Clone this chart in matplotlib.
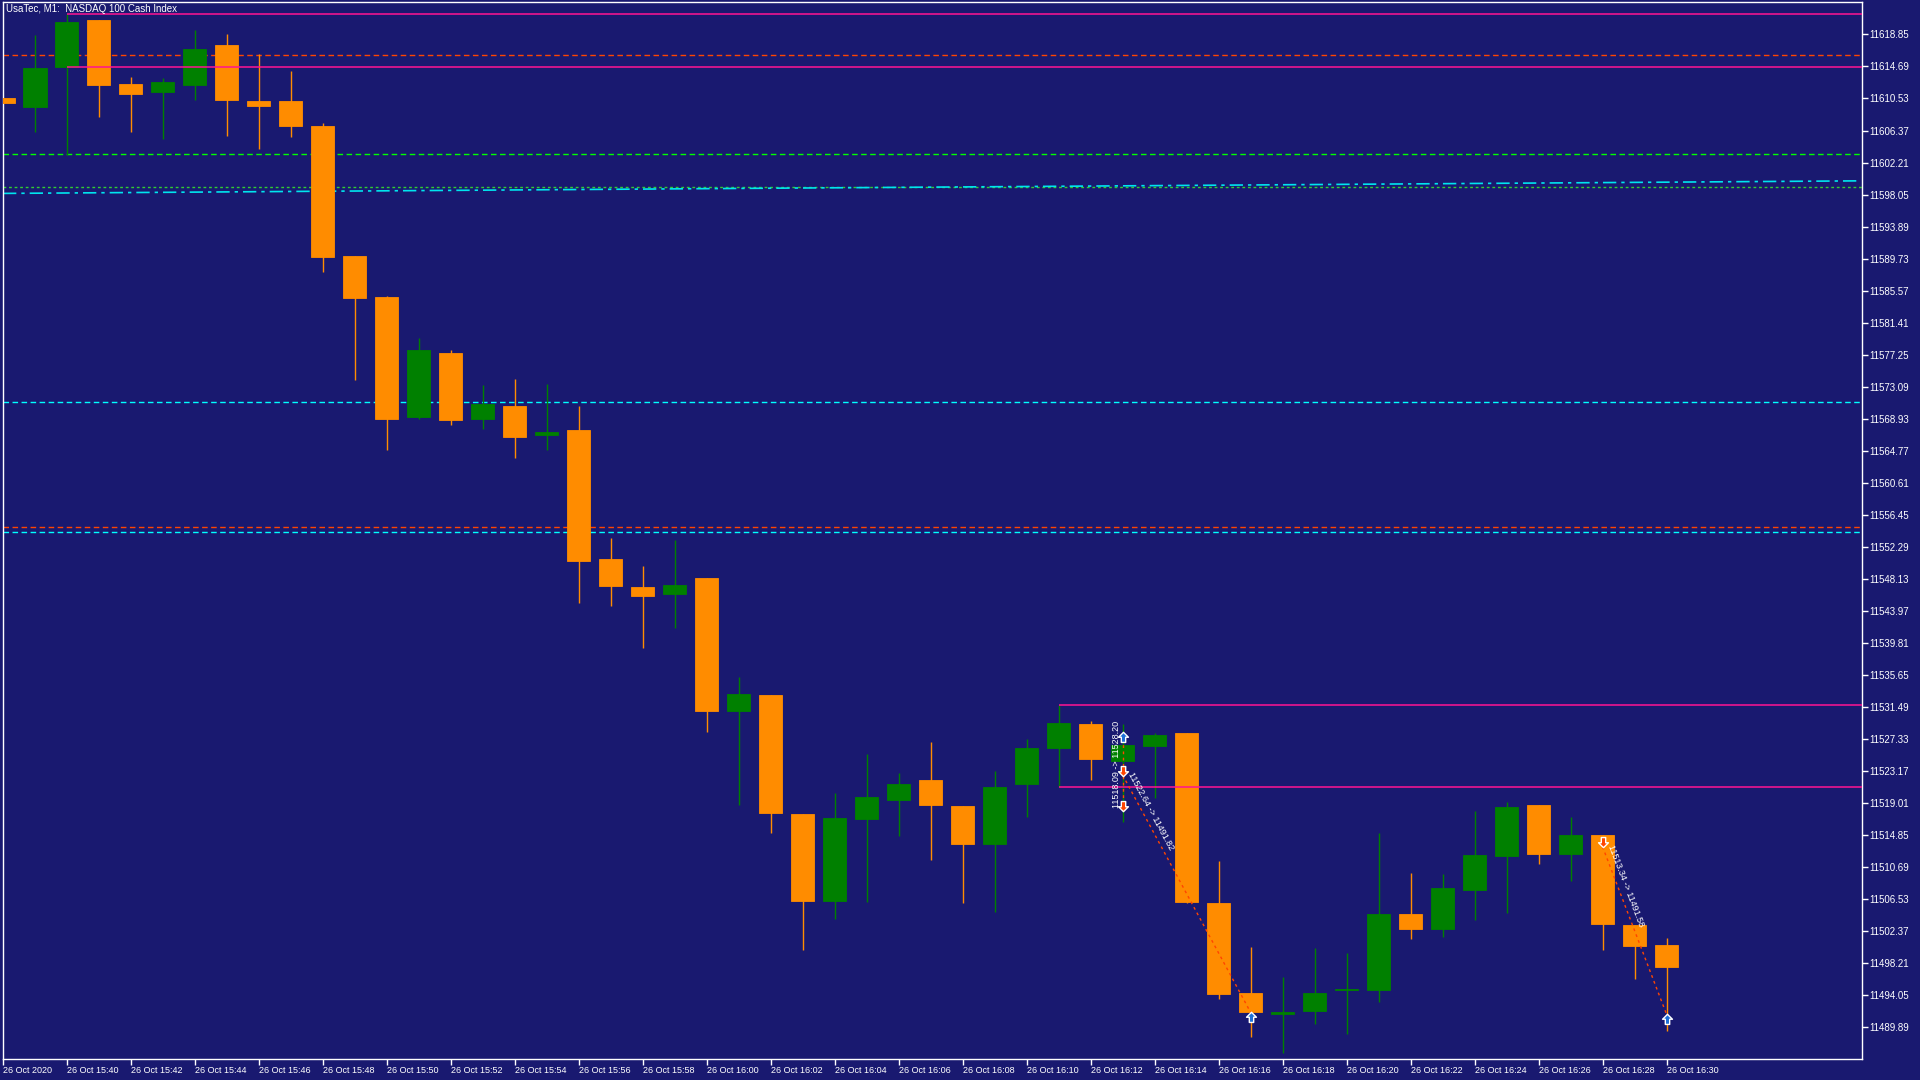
import math
import matplotlib
matplotlib.use("Agg")
import matplotlib.pyplot as plt
from matplotlib.path import Path
from matplotlib.transforms import ScaledTranslation

# ---------------- data ----------------
times = ["15:38", "15:39", "15:40", "15:41", "15:42", "15:43", "15:44", "15:45", "15:46", "15:47",
         "15:48", "15:49", "15:50", "15:51", "15:52", "15:53", "15:54", "15:55", "15:56", "15:57",
         "15:58", "15:59", "16:00", "16:01", "16:02", "16:03", "16:04", "16:05", "16:06", "16:07",
         "16:08", "16:09", "16:10", "16:11", "16:12", "16:13", "16:14", "16:15", "16:16", "16:17",
         "16:18", "16:19", "16:20", "16:21", "16:22", "16:23", "16:24", "16:25", "16:26", "16:27",
         "16:28", "16:29", "16:30"]
opens = [11610.59, 11609.42, 11614.65, 11620.72, 11612.41, 11611.41, 11612.32, 11617.47, 11610.20, 11610.20,
         11606.95, 11590.07, 11584.74, 11569.16, 11577.47, 11568.90, 11570.59, 11566.82, 11567.47, 11550.72,
         11547.09, 11546.18, 11548.26, 11531.01, 11533.05, 11517.60, 11506.33, 11516.99, 11519.46, 11522.02,
         11518.68, 11513.66, 11521.55, 11526.21, 11529.30, 11524.53, 11526.44, 11528.13, 11506.03, 11494.34,
         11491.66, 11492.05, 11494.77, 11494.77, 11504.60, 11502.69, 11507.78, 11512.20, 11518.78, 11512.46,
         11514.88, 11503.17, 11500.54]
highs = [11610.59, 11618.77, 11621.46, 11620.72, 11613.32, 11613.15, 11619.42, 11618.90, 11616.30, 11614.10,
         11607.30, 11590.07, 11584.87, 11579.38, 11577.86, 11573.32, 11574.10, 11573.45, 11570.59, 11553.45,
         11549.81, 11553.19, 11548.26, 11535.39, 11533.05, 11517.60, 11520.33, 11525.40, 11522.92, 11526.96,
         11518.68, 11523.18, 11527.35, 11531.77, 11529.69, 11529.30, 11528.13, 11528.13, 11511.50, 11500.32,
         11496.44, 11500.19, 11499.54, 11515.14, 11509.95, 11509.82, 11518.00, 11519.17, 11518.78, 11517.21,
         11514.88, 11503.17, 11501.48]
lows = [11609.94, 11606.21, 11603.19, 11608.16, 11606.21, 11605.23, 11610.37, 11605.69, 11604.00, 11605.56,
        11588.03, 11574.02, 11564.88, 11568.90, 11568.12, 11567.60, 11563.84, 11564.88, 11545.00, 11544.65,
        11539.20, 11541.80, 11528.29, 11518.81, 11515.17, 11499.93, 11504.00, 11506.20, 11514.78, 11511.66,
        11506.07, 11504.86, 11517.25, 11521.12, 11521.99, 11516.60, 11519.68, 11506.07, 11493.60, 11488.67,
        11486.55, 11490.37, 11489.06, 11493.21, 11501.39, 11501.65, 11503.86, 11504.73, 11511.16, 11508.93,
        11499.97, 11496.22, 11489.44]
closes = [11609.94, 11614.49, 11620.46, 11612.32, 11611.15, 11612.67, 11616.95, 11610.37, 11609.59, 11607.00,
          11589.98, 11584.65, 11568.90, 11577.86, 11568.77, 11570.85, 11566.56, 11567.21, 11550.46, 11547.22,
          11545.96, 11547.35, 11531.01, 11533.18, 11517.77, 11506.33, 11517.08, 11519.81, 11521.50, 11518.81,
          11513.66, 11521.11, 11526.18, 11529.43, 11524.79, 11526.57, 11527.87, 11506.20, 11494.25, 11491.92,
          11491.88, 11494.34, 11494.87, 11504.60, 11502.69, 11508.00, 11512.29, 11518.52, 11512.46, 11514.88,
          11503.34, 11500.49, 11497.72]

price_ticks = [11489.89, 11494.05, 11498.21, 11502.37, 11506.53, 11510.69, 11514.85, 11519.01,
               11523.17, 11527.33, 11531.49, 11535.65, 11539.81, 11543.97, 11548.13, 11552.29,
               11556.45, 11560.61, 11564.77, 11568.93, 11573.09, 11577.25, 11581.41, 11585.57,
               11589.73, 11593.89, 11598.05, 11602.21, 11606.37, 11610.53, 11614.69, 11618.85]
price_tick_labels = ["%.2f" % v for v in price_ticks]

time_tick_idx = list(range(0, 53, 2))
time_tick_labels = ["26 Oct 2020"] + ["26 Oct " + times[i] for i in time_tick_idx[1:]]

# horizontal levels across the whole chart: (price, colour, dash pattern)
full_levels = [11616.14, 11603.28, 11598.99, 11571.10, 11554.84, 11554.17]
full_colors = ["#FF4500", "#00FF00", "#32CD32", "#00FFFF", "#FF4500", "#00FFFF"]
full_dashes = [(4, 2.5), (4, 2.5), (2, 2), (4, 2.5), (4, 2.5), (4, 2.5)]

# horizontal rays starting at a bar
ray_start = [2, 2, 33, 33]
ray_levels = [11621.46, 11614.68, 11531.80, 11521.07]

# trend line (dash-dot)
trend_x = [0, 58]
trend_y = [11598.20, 11599.83]

# trade history
trade_x0 = [35, 35, 50]
trade_y0 = [11518.09, 11522.64, 11513.34]
trade_x1 = [35, 39, 52]
trade_y1 = [11528.20, 11491.82, 11491.58]
trade_text = ["11518.09 -> 11528.20", "11522.64 -> 11491.82", "11513.34 -> 11491.58"]

buy_arrow_x = [35, 39, 52]
buy_arrow_y = [11528.20, 11491.82, 11491.58]
sell_arrow_x = [35, 35, 50]
sell_arrow_y = [11522.64, 11518.09, 11513.34]

# ---------------- style ----------------
BG = "#191970"
BULL = "#008000"
BEAR = "#FF8C00"
PINK = "#FF1493"
FONT = ["Liberation Sans", "DejaVu Sans"]
PX = 0.72  # one pixel in points at dpi 100

W, H = 1920, 1080
fig = plt.figure(figsize=(W / 100, H / 100), dpi=100, facecolor=BG)
left, right, top, bottom = 3, 1862, 2.4, 1059
ax = fig.add_axes([left / W, (H - bottom) / H, (right - left) / W, (bottom - top) / H])
ax.set_facecolor(BG)
ax.set_xlim(0.016, 58.11)
ax.set_ylim(11485.77, 11623.01)

for s in ax.spines.values():
    s.set_color("white")
    s.set_linewidth(1.0)

# candles
n = len(opens)
for i in range(n):
    o, h, l, c = opens[i], highs[i], lows[i], closes[i]
    col = BULL if c >= o else BEAR
    ax.vlines(i, l, h, color=col, lw=1.0, zorder=3)
    lo_b, hi_b = min(o, c), max(o, c)
    ax.bar(i, hi_b - lo_b, bottom=lo_b, width=0.72, color=col, edgecolor=col,
           linewidth=0.6, zorder=4)

# level lines
x_right = ax.get_xlim()[1]
for lv, col, ds in zip(full_levels, full_colors, full_dashes):
    ax.axhline(lv, color=col, lw=1.0, linestyle=(0, ds), zorder=2)
for xs, lv in zip(ray_start, ray_levels):
    ax.hlines(lv, xs, x_right, color=PINK, lw=1.1, zorder=5)
ax.plot(trend_x, trend_y, color="#00E5EE", lw=1.2, linestyle=(0, (8, 3, 2, 3)), zorder=2)

# trade lines
for x0, y0, x1, y1 in zip(trade_x0, trade_y0, trade_x1, trade_y1):
    ax.plot([x0, x1], [y0, y1], color="#FF4500", lw=1.0, linestyle=(0, (2, 2.5)), zorder=6)

# arrow markers
up = Path([(0, 1), (0.95, 0.05), (0.42, 0.05), (0.42, -0.95), (-0.42, -0.95),
           (-0.42, 0.05), (-0.95, 0.05), (0, 1)], closed=True)
down = Path([(x, -y) for x, y in up.vertices], closed=True)
off_dn = ax.transData + ScaledTranslation(0, -4.5 / 100, fig.dpi_scale_trans)
off_up = ax.transData + ScaledTranslation(0, 4.5 / 100, fig.dpi_scale_trans)
ax.plot(buy_arrow_x, buy_arrow_y, linestyle="none", marker=up, markersize=7.5,
        markerfacecolor="#1E70D8", markeredgecolor="white", markeredgewidth=1.0,
        transform=off_dn, zorder=8)
ax.plot(sell_arrow_x, sell_arrow_y, linestyle="none", marker=down, markersize=7.5,
        markerfacecolor="#FF4500", markeredgecolor="white", markeredgewidth=1.0,
        transform=off_up, zorder=8)

# trade texts
for k, (x0, y0, x1, y1, s) in enumerate(zip(trade_x0, trade_y0, trade_x1, trade_y1, trade_text)):
    p0 = ax.transData.transform((x0, y0))
    p1 = ax.transData.transform((x1, y1))
    if x0 == x1:
        tr = ax.transData + ScaledTranslation(-6 / 100, 2 / 100, fig.dpi_scale_trans)
        ax.text(x0, y0, s, rotation=90, ha="center", va="bottom", color="white",
                fontsize=6.5, family=FONT, transform=tr, zorder=9)
    else:
        ang = math.degrees(math.atan2(p1[1] - p0[1], p1[0] - p0[0]))
        tr = ax.transData + ScaledTranslation(4 / 100, 0 / 100, fig.dpi_scale_trans)
        ax.text(x0, y0, s, rotation=ang, rotation_mode="anchor", ha="left", va="bottom",
                color="white", fontsize=6.5, family=FONT, transform=tr, zorder=9)

# axes ticks
ax.yaxis.tick_right()
ax.set_yticks(price_ticks)
ax.set_yticklabels(price_tick_labels, family=FONT)
ax.tick_params(axis="y", colors="white", length=4, width=1.0, pad=1.5, labelsize=7)
ax.set_xticks(time_tick_idx)
ax.set_xticklabels(time_tick_labels, ha="left", family=FONT)
ax.tick_params(axis="x", colors="white", length=4, width=1.0, pad=1, labelsize=6.5)

fig.text(6.5 / W, 1 - 9.5 / H, "UsaTec, M1:  NASDAQ 100 Cash Index", ha="left", va="center",
         color="white", fontsize=7, family=FONT)

fig.savefig("out.png", dpi=100, facecolor=BG)
